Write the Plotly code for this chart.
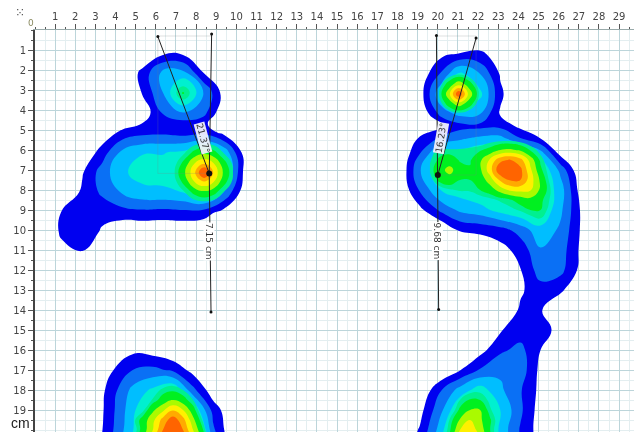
import plotly.graph_objects as go

# pressure values (x, y in cm)
# outer bands of each foot region
left_fore_x = [0.35, 1.35, 2.35, 3.35, 4.35, 5.35, 6.35, 7.35, 8.35, 9.35, 10.35, 11.35]
left_fore_y = [0.13, 1.13, 2.13, 3.13, 4.13, 4.7, 5.13, 6.13, 7.13, 8.13, 9.13, 10.13, 11.13, 12.13]
left_fore_z = [
    [0, 0, 0, 0, 0, 0, 0, 0, 0, 0, 0, 0],
    [0, 0, 0, 0, 0, 0, .7, .7, 0, 0, 0, 0],
    [0, 0, 0, 0, 0, 1.3, 3.3, 3.3, 1.0, 0, 0, 0],
    [0, 0, 0, 0, 0, 1.1, 3.0, 5.8, 3.1, .6, 0, 0],
    [0, 0, 0, 0, 0, .3, 2.1, 3.0, 2.4, .2, 0, 0],
    [0, 0, 0, 0, .5, 1.05, 1.5, 1.5, 1.3, 0, 0, 0],
    [0, 0, 0, .26, 1.3, 1.7, 1.8, 1.6, 1.7, .7, 0, 0],
    [0, 0, 0, 1.5, 3.3, 3.95, 3.95, 4.2, 5.0, 3.9, .7, 0],
    [0, 0, .9, 2.5, 3.85, 4.4, 4.4, 4.95, 5.0, 4.9, .9, 0],
    [0, 0, 1.2, 2.2, 3.1, 3.7, 3.8, 4.0, 4.9, 3.0, .5, 0],
    [0, 1.1, 1.5, 1.3, 1.6, 1.7, 1.6, 1.7, 1.5, .6, 0, 0],
    [0, 1.2, 1.6, .85, 0, 0, 0, 0, 0, 0, 0, 0],
    [0, .65, .95, 0, 0, 0, 0, 0, 0, 0, 0, 0],
    [0, 0, 0, 0, 0, 0, 0, 0, 0, 0, 0, 0],
]

left_heel_x = [2.85, 3.85, 4.85, 5.85, 6.85, 7.85, 8.85, 9.85]
left_heel_y = [15, 16, 17, 18, 19, 20, 21]
left_heel_z = [
    [0, 0, 0, 0, 0, 0, 0, 0],
    [0, 0, .73, .49, 0, 0, 0, 0],
    [0, .95, 2.0, 2.3, 1.8, .6, 0, 0],
    [0, 1.6, 3.3, 4.2, 5.0, 2.3, .3, 0],
    [0, 1.8, 3.7, 5.8, 8, 5, 1.6, 0],
    [.1, 1.9, 3.9, 7, 11, 7, 2.2, 0],
    [.3, 2.4, 4.6, 9, 11.5, 8.5, 3.3, .2],
]

right_x = [18.1, 19.1, 20.2, 21.1, 22.1, 23.1, 24.1, 25.1, 26.1, 27.1, 28.1]
right_y = [.2, 1.2, 2.2, 3.2, 4.2, 4.8, 5.4, 6.2, 7, 8, 9, 10, 11, 12, 13, 14, 15, 16, 17, 18, 19, 20, 21]
right_z = [
    [0, 0, 0, 0, 0, 0, 0, 0, 0, 0, 0],
    [0, 0, .75, 1.05, 1.2, .55, 0, 0, 0, 0, 0],
    [0, .2, 2.2, 4.3, 3.0, .9, 0, 0, 0, 0, 0],
    [0, .4, 4, 5, 4.3, 1.2, 0, 0, 0, 0, 0],
    [0, 0, 2.4, 3.3, 3.0, .9, 0, 0, 0, 0, 0],
    [0, 0, .9, 1.6, 1.7, 1.7, .7, 0, 0, 0, 0],
    [0, 1.1, 2.2, 2.8, 3.2, 3.3, 2.0, .95, 0, 0, 0],
    [0, 2.0, 4.4, 4.4, 5.0, 5.0, 5.0, 3.6, .7, 0, 0],
    [0, 2.9, 5.0, 5.0, 5.0, 5.0, 5.0, 5.0, 2.7, 0, 0],
    [0, 2.1, 4.1, 4.5, 5.0, 5.0, 5.0, 5.0, 3.5, .5, 0],
    [0, .7, 2.3, 3.2, 3.6, 4.4, 5.0, 5.0, 3.2, .9, 0],
    [0, 0, 0, 1.1, 1.3, 1.6, 2.4, 3.7, 2.8, .9, 0],
    [0, 0, 0, 0, 0, .6, 1.4, 2.9, 2.5, .8, 0],
    [0, 0, 0, 0, 0, 0, .95, 2.5, 2.3, .7, 0],
    [0, 0, 0, 0, 0, 0, .85, 1.6, 1.2, 0, 0],
    [0, 0, 0, 0, 0, 0, 1.15, 1.1, 0, 0, 0],
    [0, 0, 0, 0, 0, .9, 1.5, 1.6, .5, 0, 0],
    [0, 0, 0, 0, .6, 1.8, 2.3, 1.0, 0, 0, 0],
    [0, 0, 0, .95, 2.1, 2.8, 2.6, .7, 0, 0, 0],
    [0, 0, 2, 3.4, 4.5, 3.2, 2.1, .7, 0, 0, 0],
    [0, .6, 2.9, 5.1, 6.6, 4, 2.2, .5, 0, 0, 0],
    [0, 1.1, 3.6, 7.5, 6.9, 3.7, 1.9, .5, 0, 0, 0],
    [0, 1.6, 4.5, 9, 8, 4.2, 2.1, .6, 0, 0, 0],
]

# peak zones, finer readings
left_toe_peak_x = [6.85, 7.35, 7.85]
left_toe_peak_y = [2.65, 3.15, 3.65]
left_toe_peak_z = [[4, 4.2, 4], [4.2, 5.1, 4.2], [4, 4.2, 4]]

left_hot_x = [6.9, 7.4, 7.9, 8.4, 8.9, 9.4, 9.9]
left_hot_y = [5.63, 6.13, 6.63, 7.13, 7.63, 8.13, 8.63]
left_hot_z = [
    [3.5, 3.9, 4.2, 4.3, 4.2, 3.9, 3.5],
    [3.9, 4.4, 5.2, 5.7, 5.2, 4.4, 3.9],
    [4.2, 5.2, 6.9, 7.7, 6.9, 5.2, 4.2],
    [4.4, 5.8, 7.7, 10.5, 7.7, 5.7, 4.3],
    [4.2, 5.2, 6.9, 7.7, 6.9, 5.2, 4.2],
    [3.9, 4.4, 5.2, 5.7, 5.2, 4.4, 3.9],
    [3.5, 3.9, 4.2, 4.3, 4.2, 3.9, 3.5],
]

right_toe_x = [20.04, 20.54, 21.04, 21.54, 22.04]
right_toe_y = [2.2, 2.7, 3.2, 3.7, 4.2]
right_toe_z = [
    [3, 4, 4.4, 4, 3],
    [4, 5.4, 6.6, 5.5, 4.1],
    [4.4, 6.6, 10, 6.7, 4.6],
    [4, 5.4, 6.5, 5.5, 4.1],
    [3, 3.9, 4.2, 3.9, 3],
]

right_mid_x = [19.6, 20.1, 20.6, 21.1, 21.6, 22.1, 22.6, 23.1, 23.6, 24.1, 24.6, 25.1, 25.6, 26.1]
right_mid_y = [5.5, 6, 6.5, 7, 7.5, 8, 8.5, 9, 9.5]
right_mid_z = [
    [3, 3.2, 3.4, 3.6, 3.8, 3.9, 4.2, 4.3, 4.3, 4.1, 3.9, 3.4, 2.8, 2],
    [4.3, 4.6, 4.6, 4.6, 4.7, 4.9, 5.3, 6.0, 6.2, 5.8, 4.9, 4.2, 3.4, 2.4],
    [4.4, 5.2, 5.5, 4.9, 4.9, 5.8, 7.2, 8.7, 9.1, 8.4, 6.6, 4.8, 3.8, 2.6],
    [4.6, 5.7, 6.3, 5.4, 5.1, 5.8, 7.6, 9.9, 10.5, 9.3, 7.2, 5.2, 4, 2.8],
    [4.1, 5.3, 5.6, 5.0, 5.0, 5.4, 6.5, 8.2, 9.1, 9.0, 7.5, 5.8, 4.2, 3.0],
    [3.3, 4.0, 4.4, 4.6, 4.6, 5.0, 5.5, 6.4, 7.2, 7.3, 7.1, 5.8, 4.5, 3.4],
    [2.4, 3, 3.5, 3.7, 3.9, 4.1, 4.3, 4.6, 4.9, 5.4, 5.7, 5.2, 4.4, 3.2],
    [1.3, 2, 2.8, 3.2, 3.4, 3.5, 3.8, 4.0, 4.3, 4.6, 5.0, 5.0, 4.2, 3.1],
    [0, 1, 2, 2.5, 2.8, 3, 3.1, 3.2, 3.4, 3.7, 4.1, 4.4, 3.8, 3],
]

left_heel_peak_x = [4.85, 5.35, 5.85, 6.35, 6.85, 7.35, 7.85, 8.35, 8.85]
left_heel_peak_y = [17.5, 18, 18.5, 19, 19.5, 20, 20.5, 21]
left_heel_peak_z = [
    [2, 2.5, 3, 3.6, 4, 3.6, 2.5, 1.2, 0],
    [2.6, 3.2, 4, 4.7, 4.85, 4.5, 3.6, 2.2, .5],
    [3, 3.7, 4.6, 5.4, 6, 5.4, 4.5, 2.9, 1.1],
    [3.6, 4.3, 5.8, 6.8, 7.9, 7, 5.4, 3.6, 1.7],
    [4.2, 5.4, 6.7, 8.4, 9.6, 8.4, 6.3, 4.3, 2.2],
    [3.9, 5.4, 7, 9, 11, 9, 7, 5, 2.5],
    [4.6, 6, 8, 10, 11.5, 10, 8, 5.6, 3],
    [5, 6.5, 8.5, 10.5, 12, 10.5, 8.5, 6, 3.2],
]

right_heel_peak_x = [20.1, 20.6, 21.1, 21.6, 22.1, 22.6, 23.1, 23.6]
right_heel_peak_y = [18, 18.5, 19, 19.5, 20, 20.5]
right_heel_peak_z = [
    [2, 2.9, 3.6, 4.2, 4.3, 3.8, 3.2, 2.3],
    [2.4, 3.2, 4.5, 5.1, 5.0, 4.3, 3.5, 2.5],
    [2.8, 3.8, 5.2, 6.0, 6, 4.6, 3.8, 2.7],
    [3.1, 4.6, 6.1, 7.0, 6.2, 5.1, 3.9, 2.9],
    [3.4, 4.9, 7.0, 7.6, 6.6, 5, 3.7, 2.8],
    [3.7, 5.4, 8, 8.6, 7.2, 5.3, 3.8, 2.9],
]

# measurement lines (cm)
left_tilt_x, left_tilt_y = [6.1, 8.65], [0.33, 7.17]
left_axis_x, left_axis_y = [8.77, 8.65, 8.74], [0.2, 7.17, 14.1]
right_tilt_x, right_tilt_y = [21.9, 20.0], [0.4, 7.25]
right_axis_x, right_axis_y = [19.93, 20.0, 20.04], [0.27, 7.25, 13.97]
left_box_x, left_box_y = [8.77, 6.1, 6.1, 8.65], [0.3, 0.3, 7.17, 7.17]
right_box_x, right_box_y = [19.93, 21.9, 21.9, 20.0], [0.3, 0.3, 7.25, 7.25]

x_ticks = list(range(1, 30))
y_ticks = list(range(1, 20))
angle_labels = ["21.37°", "16.23°"]
length_labels = ["7.15 cm", "9.68 cm"]

level_edges = [1, 2, 3, 4, 4.5, 5, 6, 7, 8, 9]
level_colors = ["#0000F0", "#0A70F5", "#00BEFF", "#00F0D0", "#00F090",
                "#00F020", "#AAFA00", "#FFF000", "#FFAA00", "#FF6400"]


def band_scale(start, end, size):
    levels = []
    v = start
    while v <= end + 1e-9:
        levels.append(v)
        v += size
    colors = ["rgba(255,255,255,0)"]
    for lev in levels:
        c = level_colors[0]
        for e, col in zip(level_edges, level_colors):
            if lev >= e:
                c = col
        colors.append(c)
    n = len(colors)
    out = []
    for i, c in enumerate(colors):
        out += [[max(0, (i - .5) / (n - 1)), c], [min(1, (i + .5) / (n - 1)), c]]
    return out


def add_bands(fig, xs, ys, zs, start, end, size):
    fig.add_trace(go.Contour(
        x=xs, y=ys, z=zs, colorscale=band_scale(start, end, size), showscale=False, autocontour=False,
        contours=dict(coloring="fill", start=start, end=end, size=size, showlines=False),
        line=dict(width=0, smoothing=1.3), hoverinfo="skip",
    ))


fig = go.Figure()
for xs, ys, zs in [(left_fore_x, left_fore_y, left_fore_z),
                   (left_heel_x, left_heel_y, left_heel_z),
                   (right_x, right_y, right_z)]:
    add_bands(fig, xs, ys, zs, 1, 4, 1)
for xs, ys, zs in [(left_toe_peak_x, left_toe_peak_y, left_toe_peak_z),
                   (left_hot_x, left_hot_y, left_hot_z),
                   (right_toe_x, right_toe_y, right_toe_z),
                   (right_mid_x, right_mid_y, right_mid_z),
                   (left_heel_peak_x, left_heel_peak_y, left_heel_peak_z),
                   (right_heel_peak_x, right_heel_peak_y, right_heel_peak_z)]:
    add_bands(fig, xs, ys, zs, 4.5, 9, .5)

for xs, ys in [(left_box_x, left_box_y), (right_box_x, right_box_y)]:
    fig.add_trace(go.Scatter(x=xs, y=ys, mode="lines", line=dict(color="rgba(120,130,130,.4)", width=.6), hoverinfo="skip"))
for xs, ys in [(left_tilt_x, left_tilt_y), (left_axis_x, left_axis_y),
               (right_tilt_x, right_tilt_y), (right_axis_x, right_axis_y)]:
    fig.add_trace(go.Scatter(x=xs, y=ys, mode="lines", line=dict(color="#222", width=1), hoverinfo="skip"))
    fig.add_trace(go.Scatter(x=[xs[0], xs[-1]], y=[ys[0], ys[-1]], mode="markers",
                             marker=dict(color="#111", size=3), hoverinfo="skip"))
fig.add_trace(go.Scatter(x=[left_tilt_x[1], right_tilt_x[1]], y=[left_tilt_y[1], right_tilt_y[1]],
                         mode="markers", marker=dict(color="#111", size=6), hoverinfo="skip"))

axis_common = dict(
    showgrid=True, gridcolor="#BCD5DA", gridwidth=1, zeroline=False,
    ticks="outside", ticklen=5, tickcolor="#555", tickwidth=1,
    tickfont=dict(family="DejaVu Sans", size=10, color="#444"),
    minor=dict(dtick=.5, showgrid=True, gridcolor="#E3EEF0", gridwidth=1,
               ticks="outside", ticklen=2, tickcolor="#555"),
)
fig.update_layout(
    width=634, height=432, autosize=False, showlegend=False,
    margin=dict(l=35, r=0, t=30, b=0), paper_bgcolor="white", plot_bgcolor="white",
    xaxis=dict(range=[0, 29.74], side="top", tickvals=x_ticks, ticktext=[str(v) for v in x_ticks],
               showline=True, linecolor="#9aa", linewidth=1, **axis_common),
    yaxis=dict(range=[20.1, 0], tickvals=y_ticks, ticktext=[str(v) for v in y_ticks],
               showline=True, linecolor="#444", linewidth=2, **axis_common),
)

label_font = dict(family="DejaVu Sans", size=9, color="#333")
centre = dict(xanchor="center", yanchor="middle", showarrow=False)
fig.add_annotation(x=8.34, y=5.4, xref="x", yref="y", text=angle_labels[0], textangle=75,
                   font=label_font, bgcolor="rgba(240,240,250,.95)", borderpad=0, **centre)
fig.add_annotation(x=20.16, y=5.4, xref="x", yref="y", text=angle_labels[1], textangle=-80,
                   font=label_font, bgcolor="rgba(240,240,250,.95)", borderpad=0, **centre)
fig.add_annotation(x=8.64, y=10.55, xref="x", yref="y", text=length_labels[0], textangle=90,
                   font=label_font, bgcolor="white", borderpad=0, **centre)
fig.add_annotation(x=19.98, y=10.55, xref="x", yref="y", text=length_labels[1], textangle=90,
                   font=label_font, bgcolor="white", borderpad=0, **centre)
fig.add_annotation(xref="paper", yref="paper", x=-4 / 599, y=1 + 7 / 402, text="0",
                   font=dict(family="DejaVu Sans", size=9, color="#8a8a60"), **centre)
fig.add_annotation(xref="paper", yref="paper", x=-15 / 599, y=9 / 402, text="cm",
                   font=dict(family="Liberation Sans", size=14, color="#222"), bgcolor="white", borderpad=0, **centre)
fig.add_annotation(xref="paper", yref="paper", x=-15 / 599, y=1 + 17 / 402, text="⁙",
                   font=dict(family="DejaVu Sans", size=12, color="#555"), **centre)

fig.write_html("out.html",
               post_script="document.body.style.margin='0';"
                           "document.querySelector('.plot-container').style.filter='blur(0.5px)';",
               config=dict(displayModeBar=False))
